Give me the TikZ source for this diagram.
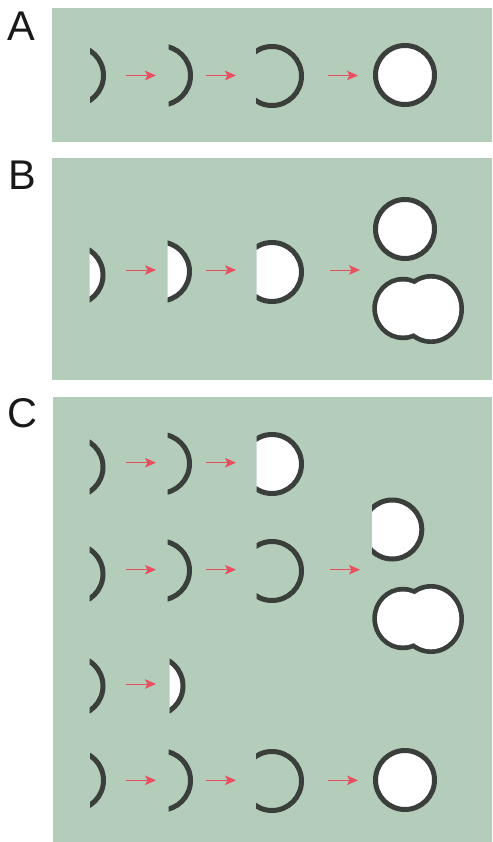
\documentclass[tikz,border=0pt]{standalone}
\usepackage{fontspec}
\setmainfont{Liberation Sans}
\usetikzlibrary{arrows.meta}
\definecolor{panel}{HTML}{B4CCBA}
\definecolor{wall}{HTML}{3A3F3C}
\definecolor{flow}{HTML}{E8505F}
\tikzset{
  panelbox/.style={fill=panel,draw=none},
  wallline/.style={draw=wall,line width=5pt},
  flowarrow/.style={draw=flow,line width=1pt,-{Stealth[length=11pt,width=9.5pt,inset=2.5pt]}},
  letter/.style={font=\fontsize{41.5}{41.5}\selectfont,text=black!90,anchor=base west,inner sep=0pt,outer sep=0pt},
}
% Clipped sphere: centre x, centre y, cut x, interior fill
\newcommand{\vesicle}[4]{%
  \begin{scope}
    \clip (#3,0) rectangle (492,842);
    \path[fill=#4] (#1,#2) circle[radius=28pt];
    \draw[wallline] (#1,#2) circle[radius=29.5pt];
  \end{scope}}
% Two fused spheres: the left one, then the larger right one, share one interior
\newcommand{\fused}[2]{%
  \draw[wallline] (403,#1) ellipse[x radius=28.2pt,y radius=29.2pt];
  \draw[wallline] (431,#2) ellipse[x radius=30.5pt,y radius=32.5pt];
  \fill[white] (403,#1) ellipse[x radius=26pt,y radius=27pt];
  \fill[white] (431,#2) ellipse[x radius=28.3pt,y radius=30.3pt];}
% Process arrow between two named end points
\newcommand{\flowstep}[4]{%
  \coordinate (#1s) at (#2,#4);
  \coordinate (#1e) at (#3,#4);
  \draw[flowarrow] (#1s) -- (#1e);}
\begin{document}
\begin{tikzpicture}[x=1pt,y=-1pt]
  \useasboundingbox (0,0) rectangle (492,842);
  \fill[white] (0,0) rectangle (492,842);
  \fill[panelbox] (52,8.5) rectangle (492,142.5);
  \fill[panelbox] (51.5,158) rectangle (492,380);
  \fill[panelbox] (53,397) rectangle (492,842);

  \node[letter] (la) at (8,40.7) {A};
  \node[letter] (lb) at (9,190) {B};
  \node[letter] (lc) at (8,427.5) {C};

  % Row A
  \vesicle{74}{75.5}{90}{none}
  \vesicle{161}{75.5}{168.5}{none}
  \vesicle{272}{76}{256}{none}
  \vesicle{405}{75}{0}{white}
  \flowstep{a1}{126}{156}{75.5}
  \flowstep{a2}{206}{236}{75.5}
  \flowstep{a3}{328}{358}{75.5}

  % Row B
  \vesicle{73.5}{275}{89.5}{white}
  \vesicle{160}{271.5}{167.5}{white}
  \vesicle{272}{272}{256.5}{white}
  \vesicle{405}{229}{0}{white}
  \fused{308.5}{309}
  \flowstep{b1}{126}{156}{270}
  \flowstep{b2}{206}{236}{270}
  \flowstep{b3}{330}{360}{270}

  % Panel C, first row
  \vesicle{73.5}{467}{89.5}{none}
  \vesicle{160}{463.7}{167.5}{none}
  \vesicle{272}{464}{256.5}{white}
  \flowstep{c1}{126}{156}{462.7}
  \flowstep{c2}{206}{236}{462.7}

  % Panel C, second row
  \vesicle{73.5}{574}{89.5}{none}
  \vesicle{160}{570.5}{167.5}{none}
  \vesicle{272}{571}{256.5}{none}
  \flowstep{d1}{126}{156}{569.7}
  \flowstep{d2}{206}{236}{569.7}
  \flowstep{d3}{330}{360}{569.7}

  % Panel C, outcomes on the right
  \vesicle{392.3}{529.5}{372}{white}
  \fused{618.5}{619}

  % Panel C, third row
  \vesicle{73.5}{686}{89.5}{none}
  \vesicle{153.5}{686}{169.5}{white}
  \flowstep{e1}{126}{156}{684}

  % Panel C, fourth row
  \vesicle{74}{780.3}{90}{none}
  \vesicle{161}{780.5}{168.5}{none}
  \vesicle{272}{781}{256}{none}
  \vesicle{405}{780}{0}{white}
  \flowstep{f1}{126}{156}{780.3}
  \flowstep{f2}{206}{236}{780.3}
  \flowstep{f3}{328}{358}{780.3}
\end{tikzpicture}
\end{document}
